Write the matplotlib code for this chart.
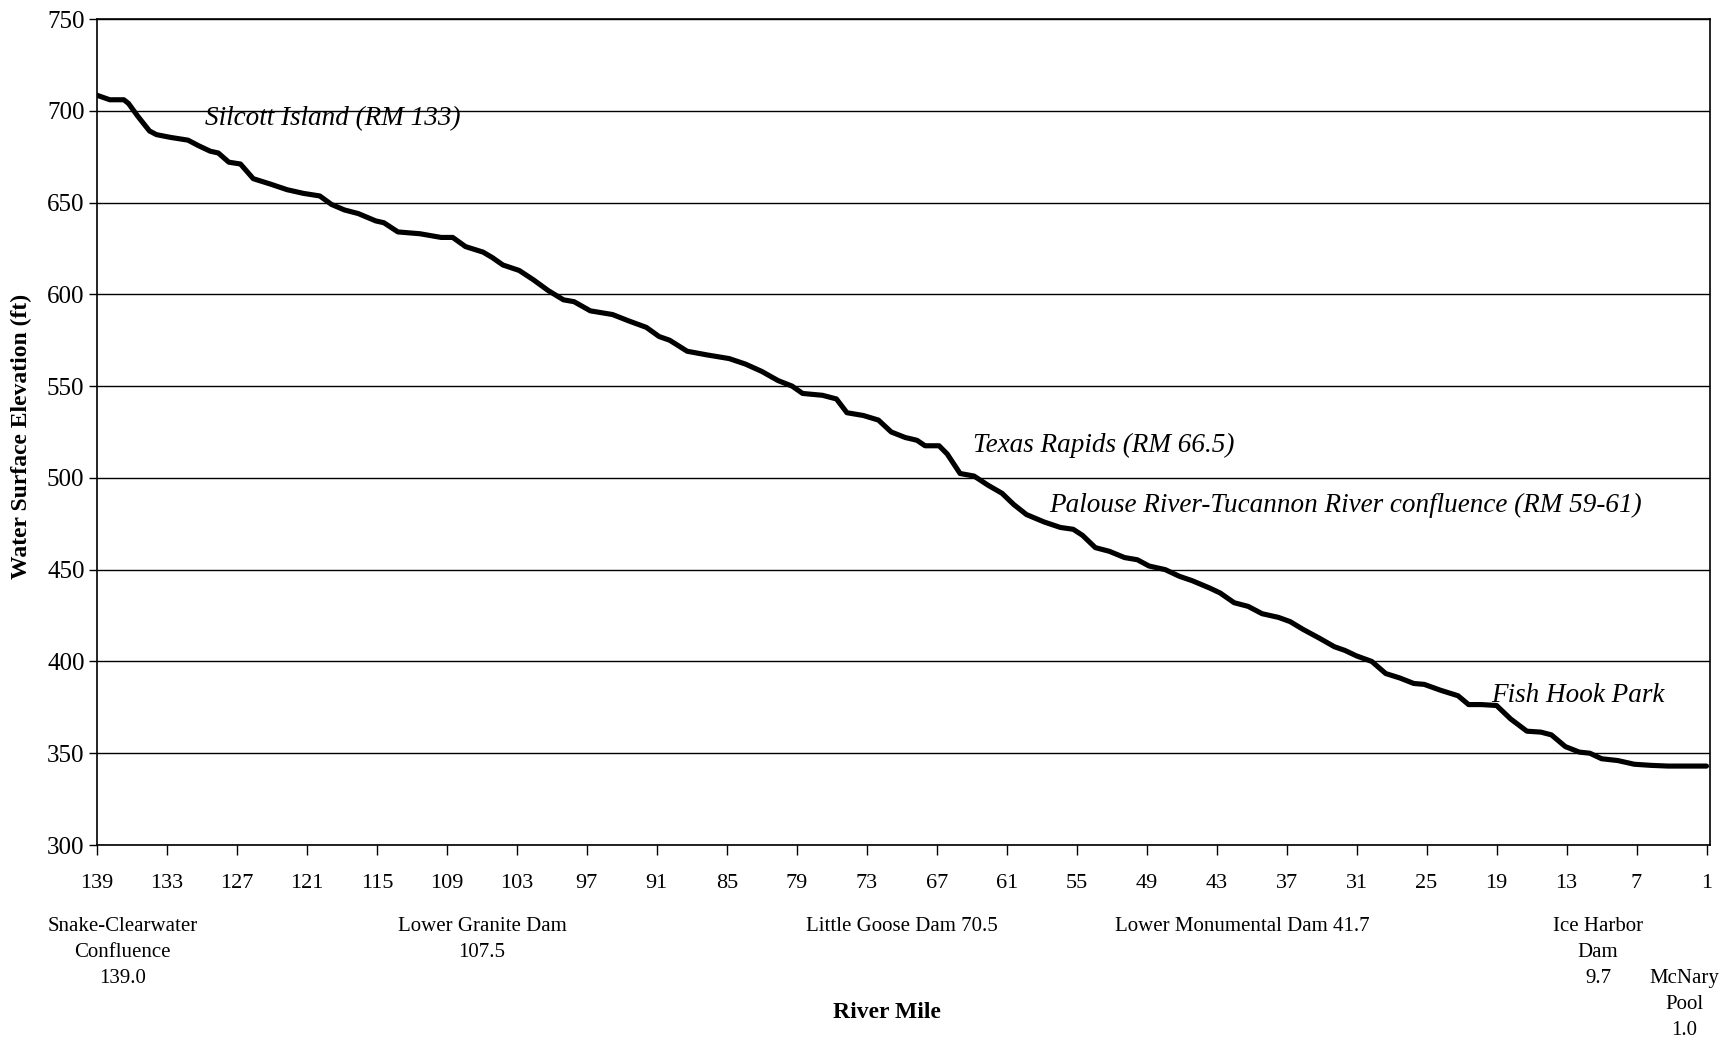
import matplotlib
matplotlib.use("Agg")
import matplotlib.pyplot as plt
import matplotlib.transforms as mtransforms

plt.rcParams['font.family'] = ['Liberation Serif', 'DejaVu Serif']

# River mile (x) and water surface elevation (ft)
river_mile = [139.0, 138.8, 137.9, 136.7, 136.3, 135.5, 134.5, 133.9, 132.7, 131.2,
              130.3, 129.3, 128.6, 127.7, 126.7, 125.6, 124.1, 122.7, 121.3, 119.9,
              118.9, 117.8, 116.6, 115.1, 114.4, 113.2, 111.3, 109.5, 108.5, 107.4,
              105.9, 105.1, 104.2, 102.8, 101.6, 100.3, 99.0, 98.1, 96.7, 94.8,
              93.4, 91.9, 90.8, 89.9, 88.4, 86.7, 84.8, 83.4, 82.0, 80.6,
              79.4, 78.5, 76.8, 75.6, 74.7, 73.3, 72.0, 70.9, 69.7, 68.7,
              68.0, 66.8, 66.1, 65.0, 63.8, 62.6, 61.4, 60.4, 59.3, 57.8,
              56.4, 55.3, 54.5, 53.4, 52.2, 50.9, 49.8, 48.8, 47.4, 46.2,
              45.1, 43.6, 42.7, 41.5, 40.3, 39.1, 37.7, 36.7, 35.6, 34.2,
              32.9, 32.0, 31.0, 29.7, 28.5, 27.3, 26.1, 25.2, 23.8, 22.3,
              21.4, 20.3, 19.0, 17.8, 16.4, 15.2, 14.3, 13.1, 11.9, 11.0,
              10.0, 8.6, 7.2, 5.8, 4.3, 1.0]
elevation = [708.5, 708.0, 706.0, 706.0, 704.0, 697.0, 689.0, 687.0, 685.5, 684.0,
             681.0, 678.0, 677.0, 672.0, 671.0, 663.0, 660.0, 657.0, 655.0, 653.6,
             649.0, 646.0, 644.0, 640.0, 639.0, 634.0, 633.0, 631.0, 631.0, 626.0,
             623.0, 620.0, 616.0, 613.0, 608.0, 602.0, 597.0, 596.0, 591.0, 589.0,
             585.5, 582.0, 577.0, 575.0, 569.0, 567.0, 565.0, 562.0, 558.0, 553.0,
             550.0, 546.0, 545.0, 543.0, 535.5, 534.0, 531.5, 525.0, 522.0, 520.5,
             517.5, 517.5, 513.0, 502.4, 501.0, 496.0, 491.6, 485.5, 480.0, 476.0,
             473.0, 472.0, 468.7, 462.0, 460.0, 456.6, 455.4, 452.0, 450.0, 446.4,
             444.0, 440.0, 437.3, 432.0, 430.0, 426.0, 424.0, 421.7, 417.5, 412.7,
             408.0, 406.0, 403.0, 400.0, 393.4, 391.0, 388.0, 387.5, 384.3, 381.3,
             376.5, 376.5, 376.0, 368.7, 362.0, 361.5, 360.0, 353.6, 350.6, 350.0,
             347.0, 346.0, 344.0, 343.4, 343.0, 343.0]

x_ticks = list(range(139, 0, -6))
y_ticks = list(range(300, 751, 50))

# In-plot annotations: (text, river mile, elevation)
notes_text = ["Silcott Island (RM 133)", "Texas Rapids (RM 66.5)",
              "Palouse River-Tucannon River confluence (RM 59-61)", "Fish Hook Park"]
notes_rm = [129.7, 63.9, 57.4, 19.5]
notes_elev = [695.8, 517.5, 485.0, 381.3]

# Landmarks printed below the axis
landmark_text = ["Snake-Clearwater\nConfluence\n139.0", "Lower Granite Dam\n107.5",
                 "Little Goose Dam 70.5", "Lower Monumental Dam 41.7",
                 "Ice Harbor\nDam\n9.7", "McNary\nPool\n1.0"]
landmark_rm = [136.8, 106.0, 70.0, 40.8, 10.3, 2.9]

W, H = 1732, 1043
fig = plt.figure(figsize=(W / 100, H / 100), dpi=100)
ax = fig.add_axes([97 / W, 1 - 845 / H, (1710 - 97) / W, (845 - 19) / H])

ax.plot(river_mile, elevation, color='black', lw=3.7, solid_capstyle='round',
        solid_joinstyle='round', zorder=3)

ax.set_xlim(139, 0.7)
ax.set_ylim(300, 750)
ax.set_xticks(x_ticks)
ax.set_yticks(y_ticks)
ax.tick_params(axis='x', labelsize=16, direction='out', length=7, width=1, pad=14)
ax.tick_params(axis='y', labelsize=18, direction='out', length=6, width=1, pad=3)
ax.yaxis.grid(True, color='black', lw=1.0)
ax.set_axisbelow(True)
for s in ax.spines.values():
    s.set_linewidth(1.2)
    s.set_color('black')

for t, xr, yr in zip(notes_text, notes_rm, notes_elev):
    ax.text(xr, yr, t, fontsize=19.5, style='italic', ha='left', va='center')

trans = mtransforms.blended_transform_factory(ax.transData, fig.transFigure)
for t, xr in zip(landmark_text, landmark_rm):
    ytop = 0.071 if t.startswith("McNary") else 0.121
    fig.text(xr, ytop, t, transform=trans, fontsize=15, ha='center', va='top',
             linespacing=1.5)

fig.text(803 * 1.1046 / W, 1 - 1012 / H, "River Mile", fontsize=17,
         fontweight='bold', ha='center', va='center')
fig.text(21 / W, 1 - 436 / H, "Water Surface Elevation (ft)", fontsize=17,
         fontweight='bold', ha='center', va='center', rotation=90)

fig.savefig("out.png", dpi=100, facecolor='white')
